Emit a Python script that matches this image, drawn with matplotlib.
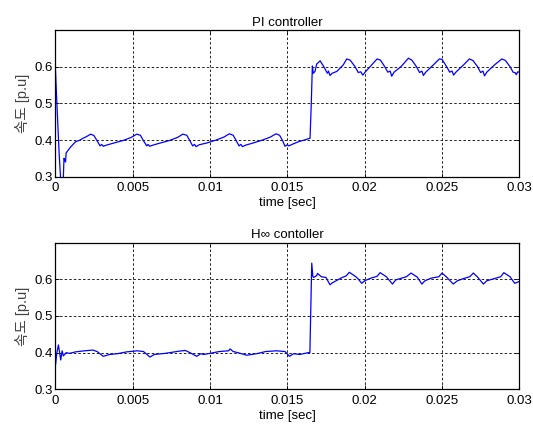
import numpy as np
import matplotlib
matplotlib.use("Agg")
import matplotlib.pyplot as plt

plt.rcParams['font.family'] = ['Liberation Sans', 'Noto Sans CJK KR']
plt.rcParams['axes.unicode_minus'] = False

# PI controller response
t_pi = [0, 0.0001, 0.00025, 0.00035, 0.00045, 0.00052, 0.00056, 0.00062, 0.00066, 0.0007,
        0.00097, 0.0013, 0.0016, 0.0018, 0.002, 0.00229, 0.0025, 0.0027, 0.00289, 0.0030,
        0.0031, 0.0033, 0.0038, 0.0044, 0.0049, 0.00526, 0.0055, 0.0057, 0.00591, 0.0060,
        0.0061, 0.0063, 0.0068, 0.0074, 0.0079, 0.00824, 0.0085, 0.0087, 0.00888, 0.0090,
        0.0091, 0.0093, 0.0098, 0.0104, 0.0109, 0.01125, 0.0115, 0.0117, 0.01188, 0.0120,
        0.0121, 0.0123, 0.0128, 0.0134, 0.0139, 0.01427, 0.0145, 0.0147, 0.01485, 0.0150,
        0.0151, 0.0153, 0.0157, 0.0161, 0.01647, 0.01655,
        0.01662, 0.01668, 0.01679, 0.0169, 0.01712, 0.01733, 0.01759, 0.01766, 0.01776, 0.0179,
        0.0182, 0.01862, 0.01884, 0.01906, 0.01938, 0.01959, 0.01975, 0.01988, 0.02003, 0.02046,
        0.0208, 0.02102, 0.0213, 0.0215, 0.02165, 0.02175, 0.0219, 0.02235, 0.0226, 0.02283,
        0.02305, 0.02335, 0.02355, 0.0237, 0.0238, 0.02395, 0.0244, 0.02483, 0.025, 0.0253,
        0.0255, 0.02565, 0.02575, 0.0259, 0.0264, 0.02677, 0.027, 0.0273, 0.0275, 0.02765,
        0.02775, 0.0279, 0.0284, 0.02887, 0.0291, 0.0294, 0.0296, 0.02975, 0.0298, 0.0299, 0.03]
y_pi = [0.600, 0.500, 0.360, 0.290, 0.260, 0.300, 0.350, 0.345, 0.340, 0.365,
        0.380, 0.395, 0.400, 0.405, 0.409, 0.416, 0.412, 0.398, 0.384, 0.388,
        0.383, 0.386, 0.392, 0.399, 0.407, 0.416, 0.413, 0.398, 0.384, 0.388,
        0.383, 0.386, 0.392, 0.399, 0.407, 0.416, 0.413, 0.398, 0.384, 0.388,
        0.382, 0.387, 0.392, 0.400, 0.408, 0.417, 0.413, 0.398, 0.384, 0.388,
        0.382, 0.386, 0.392, 0.400, 0.408, 0.417, 0.413, 0.398, 0.383, 0.387,
        0.384, 0.388, 0.395, 0.400, 0.405, 0.500,
        0.602, 0.582, 0.587, 0.607, 0.616, 0.602, 0.582, 0.588, 0.576, 0.582,
        0.587, 0.605, 0.621, 0.618, 0.600, 0.584, 0.586, 0.577, 0.585, 0.605,
        0.621, 0.618, 0.600, 0.585, 0.588, 0.574, 0.585, 0.600, 0.612, 0.623,
        0.618, 0.600, 0.584, 0.588, 0.576, 0.585, 0.603, 0.621, 0.620, 0.600,
        0.585, 0.588, 0.577, 0.585, 0.605, 0.621, 0.617, 0.600, 0.584, 0.588,
        0.575, 0.585, 0.605, 0.621, 0.617, 0.600, 0.585, 0.583, 0.578, 0.586, 0.585]

# H-infinity controller response
t_hinf = [0, 0.0001, 0.0002, 0.00035, 0.00044, 0.00052, 0.0007, 0.00091, 0.0013, 0.00189,
          0.00243, 0.0027, 0.0031, 0.0035, 0.0040, 0.0046, 0.0053, 0.0057, 0.00612, 0.0064,
          0.0071, 0.0080, 0.0084, 0.0087, 0.00914, 0.0094, 0.0096, 0.0100, 0.0106, 0.0112,
          0.0113, 0.0115, 0.0118, 0.01238, 0.0130, 0.0136, 0.0143, 0.01485, 0.01514, 0.0154,
          0.0158, 0.01636, 0.01646, 0.01658, 0.01665, 0.0167, 0.0169, 0.01695, 0.0172, 0.0175,
          0.01776, 0.0179, 0.0182, 0.0185, 0.0188, 0.01901, 0.0194, 0.0196, 0.01981, 0.0200,
          0.0204, 0.0208, 0.0210, 0.0214, 0.0216, 0.0218, 0.0220, 0.0223, 0.0227, 0.0230,
          0.0234, 0.0237, 0.0239, 0.0243, 0.0248, 0.0250, 0.0253, 0.02573, 0.0260, 0.0264,
          0.0268, 0.02703, 0.0273, 0.02768, 0.0279, 0.0284, 0.0288, 0.0290, 0.0294, 0.0297, 0.0300]
y_hinf = [0.362, 0.400, 0.421, 0.380, 0.405, 0.391, 0.400, 0.398, 0.402, 0.405,
          0.407, 0.403, 0.390, 0.395, 0.397, 0.402, 0.405, 0.403, 0.388, 0.395,
          0.398, 0.404, 0.406, 0.400, 0.390, 0.397, 0.395, 0.398, 0.403, 0.405,
          0.410, 0.403, 0.400, 0.393, 0.397, 0.403, 0.405, 0.403, 0.390, 0.397,
          0.395, 0.400, 0.400, 0.644, 0.608, 0.605, 0.610, 0.616, 0.607, 0.605,
          0.585, 0.590, 0.597, 0.604, 0.609, 0.619, 0.608, 0.600, 0.589, 0.596,
          0.603, 0.608, 0.618, 0.607, 0.597, 0.587, 0.598, 0.602, 0.607, 0.617,
          0.606, 0.587, 0.596, 0.603, 0.607, 0.617, 0.606, 0.587, 0.596, 0.602,
          0.607, 0.617, 0.606, 0.587, 0.596, 0.602, 0.607, 0.618, 0.607, 0.589, 0.594]

titles = ['PI controller', 'H\u221e contoller']
xticks = [0, 0.005, 0.01, 0.015, 0.02, 0.025, 0.03]
xticklabels = ['0', '0.005', '0.01', '0.015', '0.02', '0.025', '0.03']
yticks = [0.3, 0.4, 0.5, 0.6]

fig = plt.figure(figsize=(5.33, 4.29), dpi=100)
ax1 = fig.add_axes([0.1038, 0.5881, 0.8705, 0.342])
ax2 = fig.add_axes([0.1038, 0.0925, 0.8705, 0.342])

for ax, t, y, title in [(ax1, t_pi, y_pi, titles[0]), (ax2, t_hinf, y_hinf, titles[1])]:
    ax.plot(t, y, color='#0000ff', lw=0.9)
    ax.set_xlim(0, 0.03)
    ax.set_ylim(0.3, 0.7)
    ax.set_xticks(xticks)
    ax.set_xticklabels(xticklabels)
    ax.set_yticks(yticks)
    ax.set_yticklabels(['0.3', '0.4', '0.5', '0.6'])
    ax.grid(True, color='black', linestyle=(0, (3, 2.5)), linewidth=0.6)
    ax.tick_params(direction='in', length=3, width=0.6, top=True, right=True,
                   labelsize=9.5, pad=2)
    ax.tick_params(axis='x', pad=4)
    for s in ax.spines.values():
        s.set_linewidth(0.9)
    ax.set_title(title, fontsize=9.5, pad=3)
    ax.set_xlabel('time [sec]', fontsize=9.5, labelpad=2)
    ax.set_ylabel('속도 [p.u]', fontsize=10.5, color='#444444', labelpad=3)

fig.savefig('out.png', dpi=100)
